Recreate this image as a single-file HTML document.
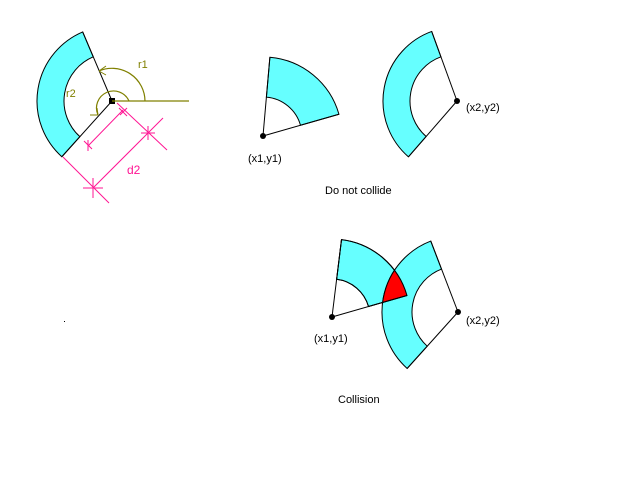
<!DOCTYPE html>
<html><head><meta charset="utf-8"><style>
html,body{margin:0;padding:0;background:#fff;}
svg{display:block;font-family:"Liberation Sans",sans-serif;}
</style></head><body>
<svg id="s" width="640" height="480" viewBox="0 0 640 480">
<defs><clipPath id="clipL"><path id="clipPathL"/></clipPath></defs>
<g id="fills"></g>
<g id="lines"></g>
<g id="annot">
  <line x1="112" y1="101" x2="189" y2="101" stroke="#808000" stroke-width="1.2"/>
  <path d="M145,101 A33,33 0 0 0 99,71" fill="none" stroke="#808000" stroke-width="1.2"/>
  <path d="M99,71 L106,66 M99,71 L106,75" stroke="#808000" fill="none"/>
  <path d="M129,101 A17,17 0 1 0 98,115" fill="none" stroke="#808000" stroke-width="1.2"/>
  <path d="M98,115 L90,115 M98,115 L97,108" stroke="#808000" fill="none"/>
  <text x="138" y="68" font-size="11" fill="#808000">r1</text>
  <text x="66" y="97" font-size="11" fill="#808000">r2</text>
  <g stroke="#ff1493" stroke-width="1" fill="none">
    <line x1="117" y1="103" x2="167" y2="150"/>
    <line x1="63" y1="157" x2="109" y2="203"/>
    <line x1="88" y1="146" x2="123" y2="110"/>
    <line x1="93" y1="188" x2="163" y2="118"/>
    <path d="M120,115 L127,108 M119,108 L127,116"/>
    <path d="M141,133 L155,133 M148,126 L148,140"/>
    <path d="M84,141 L92,149 M88,140 L88,151"/>
    <path d="M83,188 L103,188 M93,178 L93,198"/>
  </g>
  <text x="127" y="174" font-size="12" fill="#ff1493">d2</text>
</g>
<g font-size="11" fill="#000">
  <text x="248" y="162">(x1,y1)</text>
  <text x="466" y="111">(x2,y2)</text>
  <text x="325" y="194">Do not collide</text>
  <text x="314" y="342">(x1,y1)</text>
  <text x="466" y="324">(x2,y2)</text>
  <text x="338" y="403">Collision</text>
</g>
<rect x="64" y="321" width="1" height="1" fill="#000"/>
</svg>
<script>
// sectors: center x, center y, outer r, inner r, start angle, end angle (deg)
const sectorNames=['sector-example','sector-a-separate','sector-b-separate','sector-a-collide','sector-b-collide'];
const cxs=[112,263,457,332,458];
const cys=[101,136,101,317,312];
const rOut=[75,79,74,78,76];
const rIn=[48,39,47,38,46];
const aStart=[113,16,110,16,111];
const aEnd=[228,85,229,83,228];
const NS='http://www.w3.org/2000/svg';
function pt(i,r,a){const t=a*Math.PI/180;return [cxs[i]+r*Math.cos(t),cys[i]-r*Math.sin(t)];}
function sectorPath(i){
  const a1=aStart[i],a2=aEnd[i],lg=(a2-a1)>180?1:0;
  const o1=pt(i,rOut[i],a1),o2=pt(i,rOut[i],a2),i2=pt(i,rIn[i],a2),i1=pt(i,rIn[i],a1);
  return `M${o1} A${rOut[i]},${rOut[i]} 0 ${lg} 0 ${o2} L${i2} A${rIn[i]},${rIn[i]} 0 ${lg} 1 ${i1} Z`;
}
const fills=document.getElementById('fills'),lines=document.getElementById('lines');
for(let i=0;i<cxs.length;i++){
  const p=document.createElementNS(NS,'path');
  p.setAttribute('d',sectorPath(i));p.setAttribute('fill','#66ffff');p.setAttribute('stroke','#000');p.setAttribute('stroke-width','1');
  
  
  fills.appendChild(p);
  for(const a of [aStart[i],aEnd[i]]){
    const e=pt(i,rOut[i],a);
    const l=document.createElementNS(NS,'line');
    l.setAttribute('x1',cxs[i]);l.setAttribute('y1',cys[i]);l.setAttribute('x2',e[0]);l.setAttribute('y2',e[1]);
    l.setAttribute('stroke','#000');l.setAttribute('stroke-width','1');
    
    
    lines.appendChild(l);
  }
  if(i!==0){
    const c=document.createElementNS(NS,'circle');
    c.setAttribute('cx',cxs[i]);c.setAttribute('cy',cys[i]);c.setAttribute('r','3');c.setAttribute('fill','#000');
    
    
    lines.appendChild(c);
  } else {
    const c=document.createElementNS(NS,'rect');
    c.setAttribute('x',cxs[i]-3);c.setAttribute('y',cys[i]-3);c.setAttribute('width','6');c.setAttribute('height','6');c.setAttribute('fill','#000');
    
    
    lines.appendChild(c);
  }
}
// red intersection of collision sectors
document.getElementById('clipPathL').setAttribute('d',sectorPath(3));
const red=document.createElementNS(NS,'path');
red.setAttribute('d',sectorPath(4));red.setAttribute('fill','#ff0000');red.setAttribute('stroke','#000');
red.setAttribute('clip-path','url(#clipL)');


fills.appendChild(red);
const outl=document.createElementNS(NS,'path');
outl.setAttribute('d',sectorPath(3));outl.setAttribute('fill','none');outl.setAttribute('stroke','#000');


fills.appendChild(outl);
</script>
</body></html>
